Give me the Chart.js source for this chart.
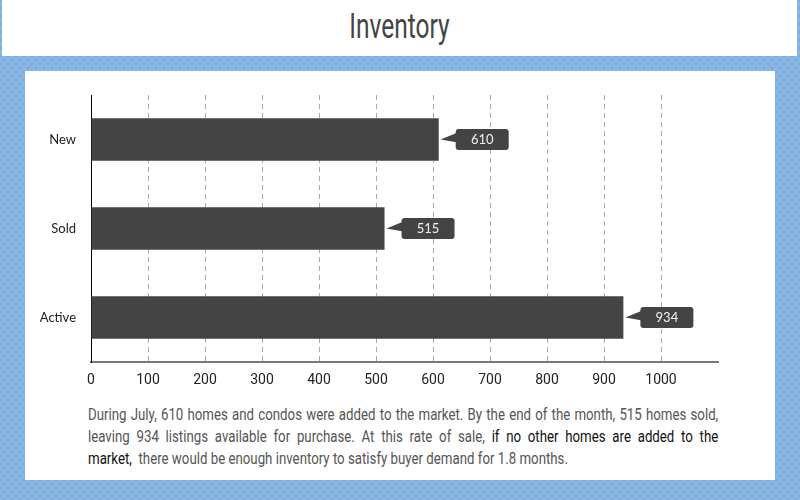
<!DOCTYPE html>
<html>
<head>
<meta charset="utf-8">
<script src="https://cdn.jsdelivr.net/npm/chart.js@4"></script>
<style>
  html, body { margin: 0; padding: 0; }
  body {
    width: 800px; height: 500px; position: relative; overflow: hidden;
    background-color: #7eafe0;
    background-image: radial-gradient(circle at 50% 50%, rgba(255,255,255,0) 2px, rgba(255,255,255,0.18) 3px, rgba(255,255,255,0) 4px);
    background-size: 8px 8px;
  }
  #top { position: absolute; left: 2px; top: 0; width: 795px; height: 56px; background: #fff; }
  #title {
    position: absolute; left: 0; top: 6px; width: 795px; text-align: center;
    font-family: Roboto, sans-serif; font-size: 35px; color: #444;
    transform: scaleX(0.7); transform-origin: 50% 0;
  }
  #card { position: absolute; left: 25px; top: 71px; width: 750px; height: 409px; background: #fff; }
  #chart { position: absolute; left: 0; top: 0; }
  #note { position: absolute; left: 63px; top: 332px; width: 630px; }
  .line {
    width: 808px; transform: scaleX(0.78); transform-origin: 0 0;
    font-family: Roboto, sans-serif; font-size: 17px; line-height: 22px; color: #555;
    text-align: justify; text-align-last: justify; white-space: nowrap; height: 22px;
  }
  .line.j { white-space: normal; }
  .line.last { text-align-last: left; }
  .dark { color: #111; }
</style>
</head>
<body>
<div id="top"><div id="title">Inventory</div></div>
<div id="card">
  <canvas id="chart" width="750" height="324"></canvas>
  <div id="note">
    <div class="line j">During July, 610 homes and condos were added to the market. By the end of the month, 515 homes sold,</div>
    <div class="line j">leaving 934 listings available for purchase. At this rate of sale, <span class="dark">if no other homes are added to the</span></div>
    <div class="line last"><span class="dark">market,</span>&nbsp; there would be enough inventory to satisfy buyer demand for 1.8 months.</div>
  </div>
</div>
<script>
var categories = ["New", "Sold", "Active"];
var homes = [610, 515, 934];
var xTicks = [0, 100, 200, 300, 400, 500, 600, 700, 800, 900, 1000];

var callouts = {
    id: 'callouts',
    afterDatasetsDraw: function(chart) {
        var ctx = chart.ctx;
        var meta = chart.getDatasetMeta(0);
        ctx.save();
        meta.data.forEach(function(bar, i) {
            var tip = bar.x + 2, cy = bar.y;
            var left = bar.x + 17, w = 53, h = 21;
            ctx.fillStyle = '#444';
            ctx.beginPath();
            ctx.moveTo(tip, cy);
            ctx.lineTo(left + 2, cy - 7);
            ctx.lineTo(left + 2, cy + 3);
            ctx.closePath();
            ctx.fill();
            ctx.beginPath();
            ctx.roundRect(left, cy - h / 2, w, h, 3);
            ctx.fill();
            ctx.fillStyle = '#f2f2f2';
            ctx.font = '13px Lato, sans-serif';
            ctx.textAlign = 'center';
            ctx.textBaseline = 'middle';
            ctx.fillText(homes[i], left + w / 2, cy + 0.5);
        });
        ctx.restore();
    }
};

var inventoryConfig = {
    type: 'bar',
    data: {
        labels: categories,
        datasets: [{
            data: homes,
            backgroundColor: '#444444',
            barPercentage: 0.48,
            categoryPercentage: 1
        }]
    },
    options: {
        indexAxis: 'y',
        responsive: false,
        animation: false,
        layout: { padding: { top: 24, right: 57, left: 0, bottom: 0 } },
        plugins: { legend: { display: false }, tooltip: { enabled: false } },
        scales: {
            x: {
                min: 0,
                max: 1100,
                afterFit: function(scale) { scale.height = 33; },
                afterBuildTicks: function(scale) {
                    scale.ticks = xTicks.concat([1100]).map(function(v) { return { value: v }; });
                },
                ticks: {
                    padding: 10,
                    color: '#222',
                    font: { family: 'Roboto, sans-serif', size: 14 },
                    callback: function(v) { return xTicks.indexOf(v) >= 0 ? String(v) : ''; }
                },
                grid: {
                    drawTicks: false,
                    color: function(c) {
                        var v = c.tick ? c.tick.value : 0;
                        return (v === 0 || v === 1100) ? 'rgba(0,0,0,0)' : '#aaaaaa';
                    }
                },
                border: { color: '#777', width: 2, dash: [5, 4] }
            },
            y: {
                afterFit: function(scale) { scale.width = 66; },
                ticks: {
                    padding: 15,
                    color: '#222',
                    font: { family: 'Lato, sans-serif', size: 13 }
                },
                grid: { display: false, drawTicks: false },
                border: { color: '#000', width: 1 }
            }
        }
    },
    plugins: [callouts]
};

window.onload = function() {
    var ctx = document.getElementById("chart").getContext("2d");
    window.inventoryChart = new Chart(ctx, inventoryConfig);
};
</script>
</body>
</html>
